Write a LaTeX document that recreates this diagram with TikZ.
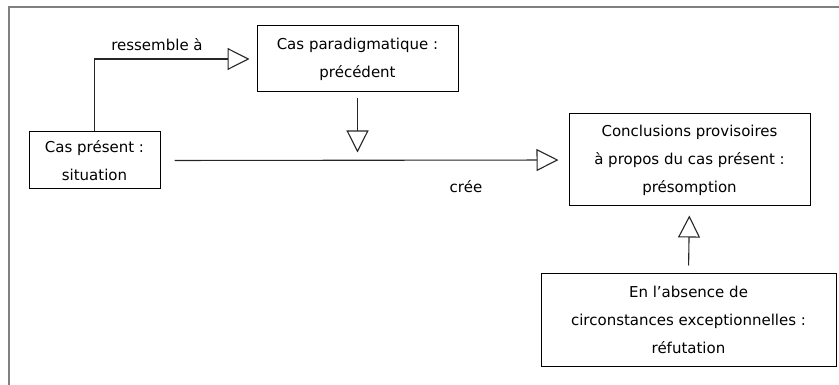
\documentclass[tikz,border=0pt]{standalone}
\usepackage{fontspec}
\setmainfont{DejaVu Sans}[Ligatures={NoCommon,NoRequired,NoContextual}]
\usetikzlibrary{arrows.meta}
\begin{document}
\begin{tikzpicture}[x=1pt,y=-1pt,
  box/.style={draw=black,line width=1pt,align=center,inner sep=0pt,font=\fontsize{15}{28}\selectfont},
  lbl/.style={inner sep=0pt,font=\fontsize{15}{28}\selectfont},
  conn/.style={draw=black!85,line width=1.1pt,-{Triangle[open,fill=white,length=22pt,width=22pt,line width=1.1pt]}}]
\useasboundingbox (0,0) rectangle (839,385);
\draw[line width=1.5pt,draw=black!50] (9,385) -- (9,7) -- (839,7);
\node[box,minimum width=131pt,minimum height=57pt] (situation) at (94.5,160.5) {Cas présent :\\situation};
\node[box,minimum width=201pt,minimum height=66pt] (precedent) at (357.5,59) {Cas paradigmatique :\\précédent};
\node[box,minimum width=241pt,minimum height=92pt] (presomption) at (689.5,160) {Conclusions provisoires\\à propos du cas présent :\\présomption};
\node[box,minimum width=295pt,minimum height=93pt] (refutation) at (688.5,319.5) {En l’absence de\\circonstances exceptionnelles :\\réfutation};
\coordinate (meet) at (precedent.south |- situation.east);
\draw[conn,shorten >=7pt] (situation.north) |- (precedent.west);
\draw[conn,shorten <=14pt,shorten >=10pt] (situation.east) -- (presomption.west);
\draw[conn,shorten <=6pt,shorten >=8pt] (precedent.south) -- (meet);
\draw[conn,shorten <=7pt,shorten >=9pt] (refutation.north) -- (presomption.south);
\node[lbl] (l1) at (157,45) {ressemble à};
\node[lbl] (l2) at (466,187) {crée};
\end{tikzpicture}
\end{document}
